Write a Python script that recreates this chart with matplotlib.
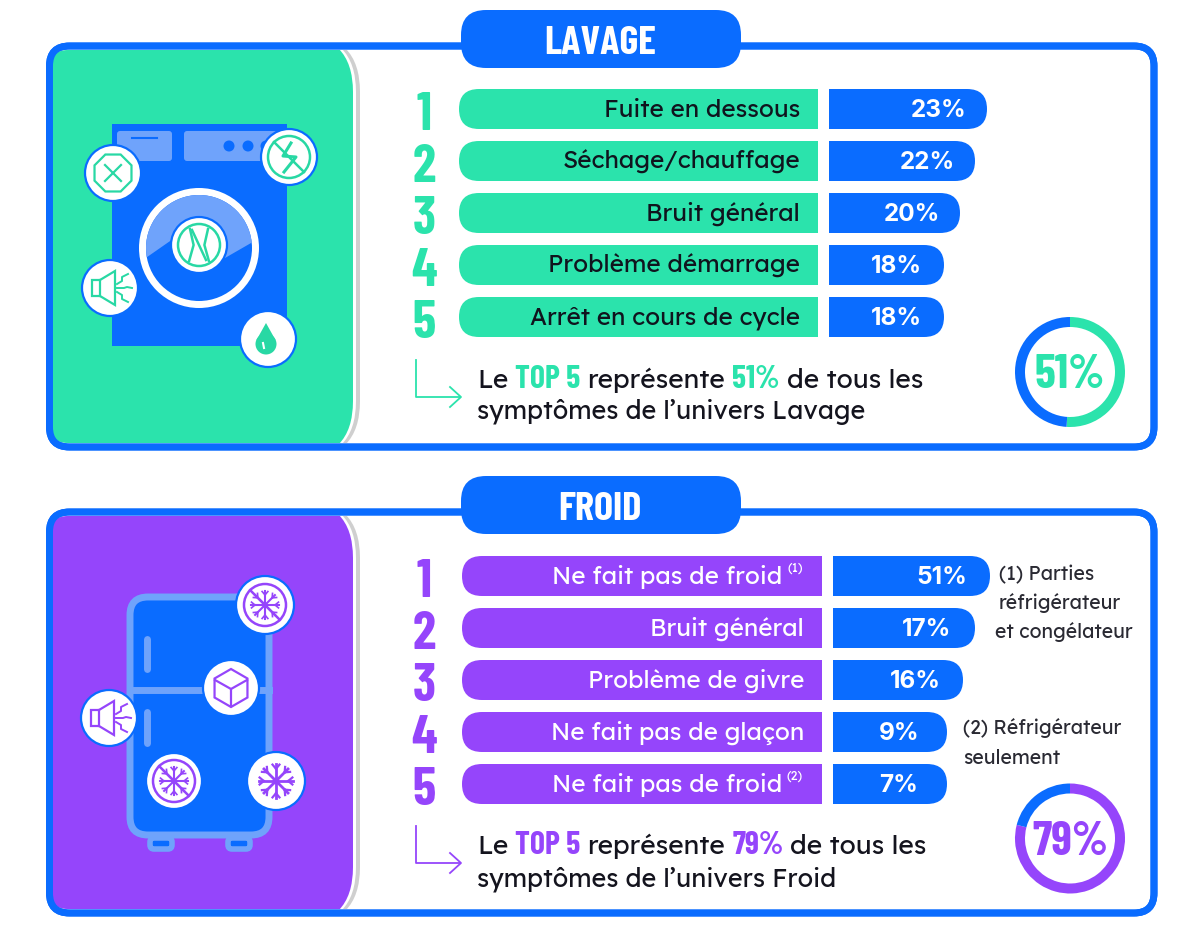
import numpy as np
import matplotlib
matplotlib.use("Agg")
import matplotlib.pyplot as plt
from matplotlib.patches import Circle, FancyBboxPatch, Rectangle, Wedge, Polygon, RegularPolygon

# ---------- data ----------
lavage_labels = ["Fuite en dessous", "Séchage/chauffage", "Bruit général", "Problème démarrage", "Arrêt en cours de cycle"]
lavage_pct = [23, 22, 20, 18, 18]
lavage_bar_len = [158, 146, 131, 115, 115]   # drawn lengths are not to scale in the source
froid_labels = ["Ne fait pas de froid", "Bruit général", "Problème de givre", "Ne fait pas de glaçon", "Ne fait pas de froid"]
froid_notes = ["(1)", "", "", "", "(2)"]
froid_pct = [51, 17, 16, 9, 7]
froid_bar_len = [157, 142, 130, 114, 114]
ranks = [1, 2, 3, 4, 5]
lavage_total = 51
froid_total = 79

BLUE = "#0A6CFF"
LIGHT = "#6FA3FB"
GREEN = "#2BE3AC"
GREEN_D = "#28D8A4"
PURPLE = "#9545FB"
GRAY = "#CFCFCF"
TXT = "#14141E"
FONT = ["Lexend", "Inter"]
BOLD = ["Inter"]
NARROW = ["Barlow Condensed", "Roboto"]

fig = plt.figure(figsize=(12, 9.51), dpi=100, facecolor="white")
ax = fig.add_axes([0, 0, 1, 1])
ax.set_xlim(0, 1200)
ax.set_ylim(951, 0)
ax.axis("off")
r = fig.canvas.get_renderer()


def rbox(x0, y0, x1, y1, rad, z=1, **kw):
    p = FancyBboxPatch((x0, y0), x1 - x0, y1 - y0, boxstyle=f"round,pad=0,rounding_size={rad}",
                       mutation_aspect=1, zorder=z, **kw)
    ax.add_patch(p)
    return p


def seq(x, y, parts, **common):
    """Place coloured text runs one after the other from x along baseline y."""
    for s, c, kw in parts:
        o = dict(common)
        o.update(kw)
        t = ax.text(x, y, s.strip(), color=c, va="baseline", ha="left", zorder=8, **o)
        x = t.get_window_extent(r).x1 + 7
    return x


def speaker(cx, cy, c, s=1.0):
    ax.add_patch(Polygon([(cx-18*s, cy-8*s), (cx-10*s, cy-8*s), (cx+5*s, cy-17*s), (cx+5*s, cy+17*s),
                          (cx-10*s, cy+8*s), (cx-18*s, cy+8*s)], closed=True, fc="none", ec=c, lw=1.6, zorder=7))
    ax.plot([cx-10*s, cx-10*s], [cy-8*s, cy+8*s], color=c, lw=1.6, zorder=7)
    ax.plot([cx+7*s, cx+14*s, cx+17*s, cx+22*s], [cy, cy, cy-1*s, cy], color=c, lw=1.4, zorder=7)
    ax.plot([cx+7*s, cx+12*s, cx+12*s, cx+18*s], [cy-4*s, cy-7*s, cy-11*s, cy-14*s], color=c, lw=1.4, zorder=7)
    ax.plot([cx+7*s, cx+12*s, cx+12*s, cx+18*s], [cy+4*s, cy+7*s, cy+11*s, cy+14*s], color=c, lw=1.4, zorder=7)


def flake(cx, cy, c, rad, lw=1.8):
    for a in np.deg2rad(np.arange(0, 180, 45)):
        dx, dy = np.cos(a) * rad, np.sin(a) * rad
        ax.plot([cx-dx, cx+dx], [cy-dy, cy+dy], color=c, lw=lw, zorder=7)
    for a in np.deg2rad(np.arange(0, 360, 45)):
        bx, by = cx + np.cos(a) * rad * .72, cy + np.sin(a) * rad * .72
        for da in (-.7, .7):
            ax.plot([bx, bx + np.cos(a+da)*rad*.32], [by, by + np.sin(a+da)*rad*.32], color=c, lw=lw*.8, zorder=7)
    ax.add_patch(Circle((cx, cy), rad*.2, fc=c, ec="none", zorder=7))


def badge(cx, cy, rad=28):
    ax.add_patch(Circle((cx, cy), rad, fc="white", ec=BLUE, lw=1.6, zorder=6))


def no_ring(cx, cy, c, rad=21):
    ax.add_patch(Circle((cx, cy), rad, fc="none", ec=c, lw=1.8, zorder=7))
    k = rad * .707
    ax.plot([cx-k, cx+k], [cy-k, cy+k], color=c, lw=1.8, zorder=7)


def panel(top, bot, accent, title, title_y, labels, pct, lens, notes, total, bar_x0, bar_x1, blue_x0, rows,
          text_r, line2, base1, base2, tx):
    # frame
    rbox(49.5, top, 1154, bot, 20, z=1, fc="white", ec=BLUE, lw=5)
    clip = FancyBboxPatch((50, top + 4), 1103, bot - top - 8, boxstyle="round,pad=0,rounding_size=18",
                          transform=ax.transData, fc="none", ec="none")
    ax.add_patch(clip)
    sh = rbox(0, top - 12, 360, bot + 12, 58, z=2, fc=GRAY, ec="none")
    wh = rbox(0, top - 12, 356, bot + 12, 58, z=2.1, fc="white", ec="none")
    pn = rbox(0, top - 12, 353, bot + 12, 58, z=2.2, fc=accent, ec="none")
    for p in (sh, wh, pn):
        p.set_clip_path(clip)
    rbox(49.5, top, 1154, bot, 20, z=2.5, fc="none", ec=BLUE, lw=5)
    # title pill
    rbox(461, title_y - 29, 741, title_y + 29, 25, z=3, fc=BLUE, ec="none")
    ax.text(600, title_y + 5, title, color="white", fontsize=29, family=NARROW, weight="bold",
            ha="center", va="center", zorder=4)
    # rows
    for i, y in enumerate(rows):
        ax.text(424, y + 21, str(ranks[i]), color=accent, fontsize=38, family=NARROW, weight="bold",
                ha="center", va="baseline", zorder=4)
        a = rbox(bar_x0, y - 20, bar_x1 + 40, y + 20, 20, z=3, fc=accent, ec="none")
        a.set_clip_path(Rectangle((bar_x0 - 1, y - 21), bar_x1 - bar_x0 + 1, 42, transform=ax.transData))
        b = rbox(blue_x0 - 40, y - 20, blue_x0 + lens[i], y + 20, 20, z=3, fc=BLUE, ec="none")
        b.set_clip_path(Rectangle((blue_x0, y - 21), lens[i] + 1, 42, transform=ax.transData))
        right = text_r
        if notes[i]:
            t = ax.text(right - 1, y - 1, notes[i], color="white", fontsize=9, family=FONT, ha="right", va="bottom", zorder=5)
            right = t.get_window_extent(r).x0 - 5
        ax.text(right, y + 8, labels[i], color="#10141E" if accent == GREEN else "white",
                fontsize=17.5, family=FONT, ha="right", va="baseline", zorder=5)
        ax.text(blue_x0 + lens[i] - 48, y + 8, f"{pct[i]}%", color="white", fontsize=17.5,
                family=BOLD, weight="bold", ha="center", va="baseline", zorder=5)
    # arrow
    ay0, ay1 = base1 - 28, base1 + 9
    ax.plot([416, 416, 460], [ay0, ay1, ay1], color=accent, lw=1.3, zorder=5)
    ax.plot([450, 461, 450], [ay1 - 10, ay1, ay1 + 10], color=accent, lw=1.3, zorder=5)
    # footer text
    seq(tx, base1, [("Le", TXT, {}), ("TOP 5", accent, {"family": NARROW, "weight": "bold", "fontsize": 23}),
                    ("représente", TXT, {}), (f"{total}%", accent, {"family": NARROW, "weight": "bold", "fontsize": 23}),
                    ("de tous les", TXT, {})], family=FONT, fontsize=19)
    ax.text(tx, base2, line2, color=TXT, family=FONT, fontsize=18.2, va="baseline", zorder=8)
    # donut
    cx, cy = 1070, (base1 + base2) / 2 - 31.5
    th = -90 + 3.6 * total
    ax.add_patch(Wedge((cx, cy), 55, -90, th, width=10, fc=accent, ec="none", zorder=5))
    ax.add_patch(Wedge((cx, cy), 55, th, 270, width=10, fc=BLUE, ec="none", zorder=5))
    ax.text(cx, cy + 4, f"{total}%", color=accent, family=NARROW, weight="bold", fontsize=34,
            ha="center", va="center", zorder=6)


rows_l = [109, 161, 213, 265, 317]
rows_f = [576, 628, 680, 732, 784]
panel(46, 447, GREEN, "LAVAGE", 39, lavage_labels, lavage_pct, lavage_bar_len, [""] * 5, lavage_total,
      459, 818, 829, rows_l, 800, "symptômes de l’univers Lavage", 388, 419, 477)
panel(512, 913, PURPLE, "FROID", 505, froid_labels, froid_pct, froid_bar_len, froid_notes, froid_total,
      462, 822, 833, rows_f, 804, "symptômes de l’univers Froid", 854, 886, 477)

# footnotes
for x, y, s in [(999, 580, "(1) Parties"), (999, 609, "réfrigérateur"), (995, 638, "et congélateur"),
                (963, 734, "(2) Réfrigérateur"), (963, 764, "seulement")]:
    ax.text(x, y, s, color="#2A2A33", family=FONT, fontsize=14, va="baseline", zorder=8)

# ---------- washing machine ----------
ax.add_patch(Rectangle((112, 124), 175, 222, fc=BLUE, ec="none", zorder=4))
rbox(117, 131, 172, 161, 3, z=4.1, fc=LIGHT, ec="none")
rbox(184, 131, 284, 161, 3, z=4.1, fc=LIGHT, ec="none")
ax.plot([132, 157], [138, 138], color=BLUE, lw=1.5, zorder=4.2)
for x in (229, 248, 266):
    ax.add_patch(Circle((x, 146), 5.5, fc=BLUE, ec="none", zorder=4.2))
ax.add_patch(Circle((199, 248), 60, fc="white", ec="none", zorder=4.2))
door = Circle((199, 248), 53, fc=BLUE, ec="none", zorder=4.3)
ax.add_patch(door)
glass = Polygon([(140, 262), (173, 239), (225, 258), (258, 239), (258, 180), (140, 180)], fc=LIGHT, ec="none", zorder=4.4)
ax.add_patch(glass)
glass.set_clip_path(door)
badge(199, 245, 28)
ax.add_patch(Circle((199, 245), 21, fc="none", ec=GREEN_D, lw=1.8, zorder=7))
for dx in (-9, 9):
    ax.plot([199 + dx, 199 + dx * .6, 199 + dx * 1.1], [229, 245, 261], color=GREEN_D, lw=1.8, zorder=7)
ax.plot([192, 206], [230, 260], color=GREEN_D, lw=1.8, zorder=7)

badge(113, 173)
ax.add_patch(RegularPolygon((113, 173), 8, radius=20, orientation=np.pi / 8, fc="none", ec=GREEN_D, lw=1.6, zorder=7))
ax.plot([105, 121], [165, 181], color=GREEN_D, lw=1.6, zorder=7)
ax.plot([105, 121], [181, 165], color=GREEN_D, lw=1.6, zorder=7)

badge(289, 157)
ax.add_patch(Circle((289, 157), 21, fc="none", ec=GREEN_D, lw=1.8, zorder=7))
ax.plot([274, 304], [142, 172], color=GREEN_D, lw=1.8, zorder=7)
ax.plot([291, 283, 296, 284], [143, 156, 157, 172], color=GREEN_D, lw=2.2, zorder=7.1)

badge(110, 288)
speaker(110, 288, GREEN_D)

badge(268, 339)
ax.add_patch(Circle((266, 344), 10.5, fc=GREEN_D, ec="none", zorder=7))
ax.add_patch(Polygon([(266, 323), (256.5, 340), (275.5, 340)], fc=GREEN_D, ec="none", zorder=7))
ax.plot([263, 264], [343, 348], color="white", lw=1.5, zorder=7.2)

# ---------- fridge ----------
rbox(130, 597, 269, 835, 18, z=4, fc=BLUE, ec=LIGHT, lw=5)
ax.plot([130, 269], [690, 690], color=LIGHT, lw=5, zorder=4.1)
ax.plot([147, 147], [639, 669], color=LIGHT, lw=5, solid_capstyle="round", zorder=4.1)
ax.plot([147, 147], [712, 743], color=LIGHT, lw=5, solid_capstyle="round", zorder=4.1)
for x0 in (150, 228):
    rbox(x0, 838, x0 + 22, 849, 4, z=3.9, fc=BLUE, ec=LIGHT, lw=4)

badge(265, 605, 29)
no_ring(265, 605, PURPLE, 21)
flake(265, 605, PURPLE, 14, 1.5)
badge(231, 688)
ax.add_patch(RegularPolygon((231, 688), 6, radius=19, fc="none", ec=PURPLE, lw=1.6, zorder=7))
ax.plot([231, 231, 215], [706, 689, 680], color=PURPLE, lw=1.6, zorder=7)
ax.plot([231, 247], [689, 680], color=PURPLE, lw=1.6, zorder=7)
badge(109, 718)
speaker(109, 718, PURPLE)
badge(174, 781)
no_ring(174, 781, PURPLE, 21)
flake(174, 781, PURPLE, 14, 1.5)
badge(276, 781, 29)
flake(276, 781, PURPLE, 17, 2)

fig.savefig("out.png", dpi=100, facecolor="white")
